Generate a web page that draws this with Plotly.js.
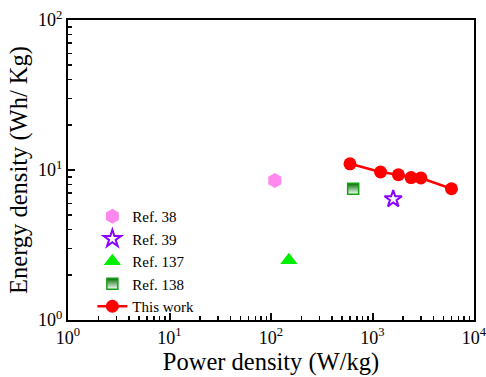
<!DOCTYPE html>
<html><head><meta charset="utf-8">
<script src="https://cdn.plot.ly/plotly-3.0.1.min.js"></script>
<style>html,body{margin:0;padding:0;background:#fff}#chart{width:486px;height:377px}</style>
</head><body><div id="chart"></div>
<script>
const ref38X = [109];  const ref38Y = [8.5];
const ref39X = [1600]; const ref39Y = [6.4];
const ref137X = [150]; const ref137Y = [2.5];
const ref138X = [645]; const ref138Y = [7.5];
const workX = [600, 1200, 1800, 2400, 3000, 6000];
const workY = [11.0, 9.7, 9.3, 8.9, 8.85, 7.5];
const xDecades = [1, 10, 100, 1000, 10000];
const yDecades = [1, 10, 100];
const xTickText = ['10<sup>0</sup>','10<sup>1</sup>','10<sup>2</sup>','10<sup>3</sup>','10<sup>4</sup>'];
const yTickText = ['10<sup>0</sup>','10<sup>1</sup>','10<sup>2</sup>'];

function minorVals(decs) {
  const out = [];
  decs.slice(0, -1).forEach(d => { for (let k = 2; k <= 9; k++) out.push(d * k); });
  return out;
}

const F = 'Liberation Serif';
const TICK = '#0a0a0a';
const traces = [
  {x: ref38X, y: ref38Y, name: 'Ref. 38', mode: 'markers', type: 'scatter',
   marker: {symbol: 'hexagon', size: 15, color: '#ff88ee', line: {width: 0}}},
  {x: ref39X, y: ref39Y, name: 'Ref. 39', mode: 'markers', type: 'scatter',
   marker: {symbol: 'star-open', size: 13, color: '#8b00ff', line: {width: 2, color: '#8b00ff'}}},
  {x: ref137X, y: ref137Y, name: 'Ref. 137', mode: 'markers', type: 'scatter',
   marker: {symbol: 'triangle-up', size: 15, color: '#00ee00', line: {width: 0}}},
  {x: ref138X, y: ref138Y, name: 'Ref. 138', mode: 'markers', type: 'scatter',
   marker: {symbol: 'square', size: 11, color: '#006e00', line: {width: 1.5, color: '#13a013'},
            gradient: {type: 'vertical', color: '#ffffff'}}},
  {x: workX, y: workY, name: 'This work', mode: 'lines+markers', type: 'scatter',
   line: {color: '#ff0000', width: 2.5},
   marker: {symbol: 'circle', size: 13, color: '#ff0000'}},
  {x: workX, y: workY, xaxis: 'x2', yaxis: 'y2', mode: 'markers', type: 'scatter',
   marker: {opacity: 0}, showlegend: false, hoverinfo: 'skip'},
  {x: workX, y: workY, xaxis: 'x3', yaxis: 'y3', mode: 'markers', type: 'scatter',
   marker: {opacity: 0}, showlegend: false, hoverinfo: 'skip'}
];
function axis(vals, text, title, extra) {
  return Object.assign({
    type: 'log', showgrid: false, zeroline: false, showline: true, linecolor: '#000', linewidth: 2,
    mirror: true, ticks: '', tickmode: 'array', tickvals: vals, ticktext: text,
    ticklabeloverflow: 'allow',
    tickfont: {family: F, size: 18, color: '#000'},
    title: {text: title, font: {family: F, size: 24.5, color: '#000'}}
  }, extra);
}
function tickAxis(vals, len, width, extra) {
  return Object.assign({
    type: 'log', showgrid: false, zeroline: false, showline: false,
    ticks: 'inside', ticklen: len, tickwidth: width, tickcolor: TICK,
    tickmode: 'array', tickvals: vals, showticklabels: false
  }, extra);
}
const layout = {
  width: 486, height: 377,
  margin: {l: 68, r: 12, t: 20, b: 57},
  paper_bgcolor: '#fff', plot_bgcolor: '#fff',
  showlegend: true,
  legend: {x: 0.06, y: 0.4, xanchor: 'left', yanchor: 'top', bgcolor: 'rgba(0,0,0,0)',
           font: {family: F, size: 15, color: '#000'}, tracegroupgap: 0, itemsizing: 'trace'},
  xaxis: axis(xDecades, xTickText, 'Power density (W/kg)', {range: [0, 4]}),
  yaxis: axis(yDecades, yTickText, 'Energy density (Wh/ Kg)', {range: [0, 2]}),
  xaxis2: tickAxis(minorVals(xDecades), 4, 1.5, {overlaying: 'x', anchor: 'y', side: 'bottom', range: [0, 4]}),
  yaxis2: tickAxis(minorVals(yDecades), 4, 1.5, {overlaying: 'y', anchor: 'x', side: 'left', range: [0, 2]}),
  xaxis3: tickAxis(xDecades, 7, 2, {overlaying: 'x', anchor: 'y', side: 'bottom', range: [0, 4]}),
  yaxis3: tickAxis(yDecades, 7, 2, {overlaying: 'y', anchor: 'x', side: 'left', range: [0, 2]})
};
layout.xaxis.title.standoff = 0;
layout.yaxis.title.standoff = 4;
Plotly.newPlot('chart', traces, layout, {displayModeBar: false, staticPlot: true});
</script></body></html>
